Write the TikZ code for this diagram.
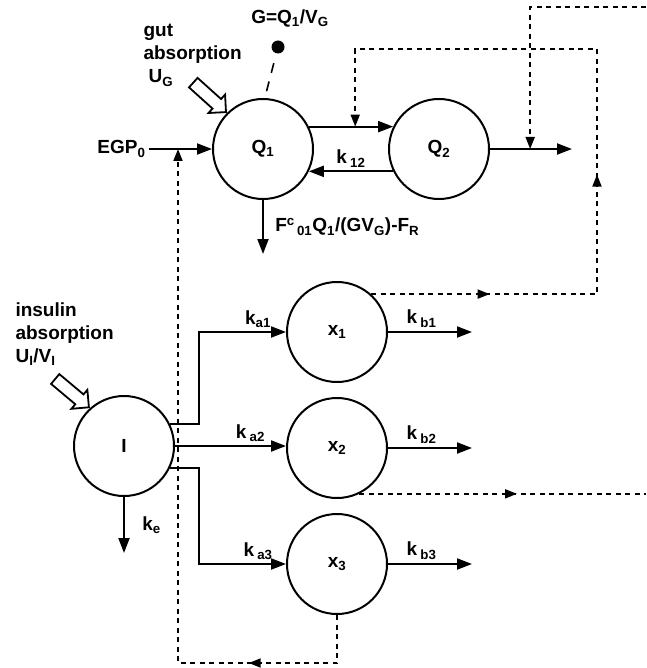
\documentclass[tikz,border=0pt]{standalone}
\usepackage{fontspec}
\setmainfont{Liberation Sans}
\usetikzlibrary{arrows.meta,positioning,calc,shapes.arrows,decorations.markings}
\newcommand{\lo}[1]{\textsubscript{#1}}

\begin{document}
\begin{tikzpicture}[x=1pt,y=-1pt,
    every node/.style={font=\fontsize{19}{23}\selectfont\bfseries},
    comp/.style={circle,draw,line width=2pt,minimum size=100pt,inner sep=0pt},
    arr/.style={-{Triangle[length=15pt,width=11pt]},line width=2pt},
    fb/.style={dash pattern=on 5pt off 4.5pt,line width=1.8pt},
    ftip/.style={-{Triangle[length=12pt,width=9pt]}},
    midtip/.style={postaction={decorate,decoration={markings,
      mark=at position #1 with {\arrow{Triangle[length=12pt,width=9pt]}}}}},
    absorb/.style={single arrow,draw,line width=1.8pt,minimum height=44pt,
      inner xsep=0pt,inner ysep=5.5pt,single arrow head extend=6pt,anchor=tip}
  ]
  \useasboundingbox (0,0) rectangle (646,668);
  % glucose subsystem
  \node[comp] (Q1) at (263,149) {Q\lo{1}};
  \node[comp,right=74pt of Q1] (Q2) {Q\lo{2}};
  \draw[arr] (Q1.26) -- (Q2.154);
  \draw[arr] (Q2.206) -- node[above] {k\,\lo{12}} (Q1.-26);
  \coordinate[right=82pt of Q2.east] (q2out);
  \draw[arr] (Q2.east) -- (q2out);
  \node[left=63pt of Q1.west] (egp) {EGP\lo{0}};
  \draw[arr] (egp.east) -- (Q1.west);
  \coordinate[below=54pt of Q1.south] (q1out);
  \draw[arr] (Q1.south) -- node[right=8pt] {F\textsuperscript{c}\lo{\,01}Q\lo{1}/(GV\lo{G})-F\lo{R}} (q1out);
  \node[align=left,anchor=north west] (gut) at (140,21) {gut\\absorption\\\hspace{5pt}U\lo{G}};
  \node[absorb,rotate=-42] (gutin) at (Q1.135) {};
  \node (glab) at (290,18) {G=Q\lo{1}/V\lo{G}};
  \node[circle,fill,minimum size=13pt,inner sep=0pt] (gdot) at (278,47) {};
  \draw[line width=1.6pt,dash pattern=on 10pt off 9pt,shorten <=10pt] (gdot) -- (Q1.88);

  % insulin subsystem
  \node[comp] (I) at (124,446) {I};
  \node[comp] (x1) at (337,332) {x\lo{1}};
  \node[comp,below=14pt of x1] (x2) {x\lo{2}};
  \node[comp,below=14pt of x2] (x3) {x\lo{3}};
  \node[align=left,anchor=north west] (ins) at (12,299) {insulin\\absorption\\U\lo{I}/V\lo{I}};
  \node[absorb,rotate=-40] (insin) at (I.132) {};
  \draw[arr] (I.26) -- ++(29,0) |- node[above,pos=0.84] {k\lo{a1}} (x1.west);
  \draw[arr] (I.east) -- node[above,pos=0.68] {k\,\lo{a2}} (I.east -| x2.west);
  \draw[arr] (I.-26) -- ++(29,0) |- node[above,pos=0.84] {k\,\lo{a3}} (x3.west);
  \coordinate[below=56pt of I.south] (ke);
  \draw[arr] (I.south) -- node[right=14pt] {k\lo{e}} (ke);
  \coordinate[right=84pt of x1.east] (b1);
  \coordinate[right=84pt of x2.east] (b2);
  \coordinate[right=84pt of x3.east] (b3);
  \draw[arr] (x1.east) -- node[above,pos=0.4] {k\,\lo{b1}} (b1);
  \draw[arr] (x2.east) -- node[above,pos=0.4] {k\,\lo{b2}} (b2);
  \draw[arr] (x3.east) -- node[above,pos=0.4] {k\,\lo{b3}} (b3);

  % insulin action (dashed)
  \coordinate (topR) at (646,7);
  \coordinate (innR) at (597,49);
  \coordinate (botL) at (178,663);
  \coordinate (m12) at ($(Q1.26)!0.55!(Q2.154)$);
  \coordinate (m2) at ($(Q2.east)!0.49!(q2out)$);
  \draw[fb,ftip,midtip=0.15,midtip=0.437] (x1.48) -| (innR) -| (m12);
  \draw[fb,ftip] (topR) -| (m2);
  \draw[fb,midtip=0.55] (x2.-64) -- (x2.-64 -| topR);
  \draw[fb,ftip,midtip=0.189] (x3.south) |- (botL) -- (botL |- Q1.west);
\end{tikzpicture}
\end{document}
